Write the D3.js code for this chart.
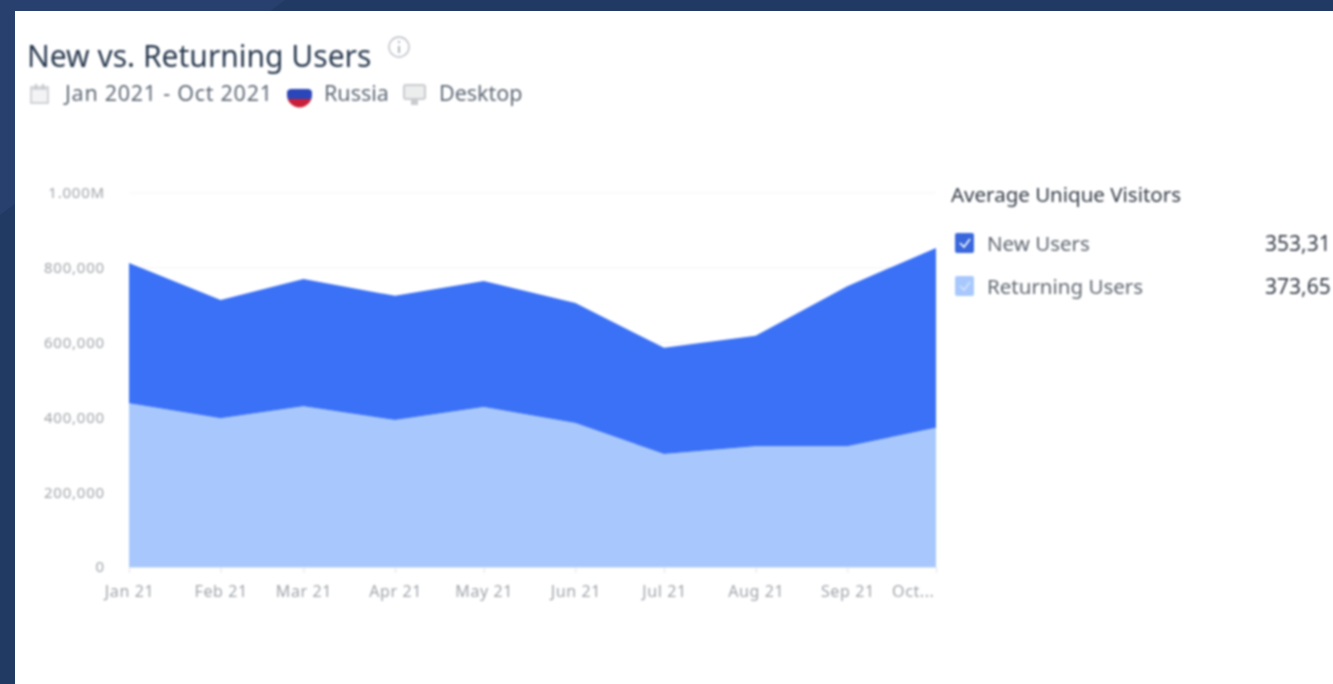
<!DOCTYPE html>
<html><head><meta charset="utf-8">
<script src="https://cdn.jsdelivr.net/npm/d3@7/dist/d3.min.js"></script>
<style>
html,body{margin:0;padding:0;overflow:hidden;background:#213a64}
svg{display:block}
text{font-family:"Noto Sans",sans-serif}
.soft{filter:blur(1px)}
</style></head><body><svg id="c" width="1333" height="684"></svg>
<script>
const months=["2021-01-01","2021-02-01","2021-03-01","2021-04-01","2021-05-01","2021-06-01","2021-07-01","2021-08-01","2021-09-01","2021-10-01"];
const monthLabels=["Jan 21","Feb 21","Mar 21","Apr 21","May 21","Jun 21","Jul 21","Aug 21","Sep 21","Oct..."];
const returningUsers=[438000,398000,430000,393000,428000,385000,302000,323000,323000,372000];
const newUsers=[375000,316000,340000,332000,337000,321000,284000,295000,428000,481000];
const yTicks=[0,200000,400000,600000,800000,1000000];
const yTickLabels=["0","200,000","400,000","600,000","800,000","1.000M"];
const legendNames=["New Users","Returning Users"];
const legendValues=["353,31","373,65"];
const colors=["#3b71f6","#a8c8fd"];

const svg=d3.select("#c");
const defs=svg.append("defs");
svg.append("rect").attr("width",1333).attr("height",684).attr("fill","#213a64");
svg.append("path").attr("d","M0,0H285L0,215Z").attr("fill","#27406e");
svg.append("rect").attr("x",15).attr("y",11).attr("width",1318).attr("height",673).attr("fill","#fff");

const parse=d3.utcParse("%Y-%m-%d");
const dates=months.map(parse);
const x=d3.scaleUtc().domain(d3.extent(dates)).range([129,936]);
const y=d3.scaleLinear().domain([0,1000000]).range([567,193]);

const rows=dates.map((d,i)=>({date:d,returning:returningUsers[i],fresh:newUsers[i]}));
const series=d3.stack().keys(["returning","fresh"])(rows);

const plot=svg.append("g").attr("class","soft");
plot.append("g").selectAll("line").data(yTicks.slice(1)).join("line")
 .attr("x1",129).attr("x2",936).attr("y1",d=>y(d)).attr("y2",d=>y(d))
 .attr("stroke","#f7f7f7").attr("stroke-width",1.5);

const area=d3.area().x(d=>x(d.data.date)).y0(d=>y(d[0])).y1(d=>y(d[1]));
plot.append("g").selectAll("path").data(series).join("path")
 .attr("d",area).attr("fill",(d,i)=>colors[1-i]);

const axY=plot.append("g").attr("transform","translate(105,0)")
 .call(d3.axisLeft(y).tickValues(yTicks).tickSize(0).tickPadding(0).tickFormat((d,i)=>yTickLabels[i]));
axY.select(".domain").remove();
axY.selectAll("text").attr("fill","#a0a4aa").style("font-size","15px").style("letter-spacing","0.8px").style("font-family","'Noto Sans',sans-serif");

const axX=plot.append("g").attr("transform","translate(0,567)")
 .call(d3.axisBottom(x).tickValues(dates).tickSize(6).tickPadding(9).tickFormat((d,i)=>monthLabels[i]));
axX.select(".domain").attr("stroke","#dfe6f2");
axX.selectAll("line").attr("stroke","#dfe3ea");
axX.selectAll("text").attr("fill","#a0a4aa").attr("dy","0.93em").style("font-size","16px").style("letter-spacing","0.6px").style("font-family","'Noto Sans',sans-serif");
axX.selectAll("text").filter((d,i)=>i===9).attr("text-anchor","end").attr("x",-2);

// header
const head=svg.append("g").attr("class","soft");
head.append("text").attr("x",27).attr("y",67).attr("fill","#2a3a50").style("font-size","30px").text("New vs. Returning Users");
head.append("circle").attr("cx",399).attr("cy",47).attr("r",10).attr("fill","none").attr("stroke","#b9bdc4").attr("stroke-width",1.4);
head.append("rect").attr("x",398).attr("y",46).attr("width",2).attr("height",7).attr("fill","#b0b4bb");
head.append("rect").attr("x",398).attr("y",41).attr("width",2).attr("height",2).attr("fill","#b0b4bb");
// calendar icon
head.append("rect").attr("x",31).attr("y",87).attr("width",17).attr("height",16).attr("fill","#f3f3f5").attr("stroke","#c4c6cb").attr("stroke-width",1.5);
head.append("rect").attr("x",31).attr("y",87).attr("width",17).attr("height",3).attr("fill","#d4d6da");
head.append("rect").attr("x",35).attr("y",84).attr("width",2).attr("height",5).attr("fill","#c4c6cb");
head.append("rect").attr("x",42).attr("y",84).attr("width",2).attr("height",5).attr("fill","#c4c6cb");
head.append("text").attr("x",65).attr("y",101).attr("fill","#5f6976").attr("textLength",207).style("font-size","21.5px").text("Jan 2021 - Oct 2021");
// flag
const clip=defs.append("clipPath").attr("id","flag");
clip.append("path").attr("d","M287,92 Q287,88 299.5,88 Q312,88 312,92 V95 A12.5,12.5 0 0 1 287,95 Z");
const flag=head.append("g").attr("clip-path","url(#flag)");
[["#f2f4fa",86,3],["#2b46b8",89,10],["#c9203a",99,10]].forEach(a=>flag.append("rect").attr("x",286).attr("y",a[1]).attr("width",28).attr("height",a[2]).attr("fill",a[0]));
head.append("text").attr("x",324).attr("y",101).attr("fill","#5f6976").style("font-size","21.5px").text("Russia");
// monitor icon
head.append("rect").attr("x",404).attr("y",85).attr("width",21).attr("height",14).attr("rx",2).attr("fill","#eceded").attr("stroke","#c9cbcf").attr("stroke-width",2);
head.append("rect").attr("x",411).attr("y",99).attr("width",7).attr("height",6).attr("fill","#c9cbcf");
head.append("text").attr("x",439).attr("y",101).attr("fill","#5f6976").style("font-size","21.5px").text("Desktop");

// legend
const leg=svg.append("g").attr("class","soft");
leg.append("text").attr("x",951).attr("y",202).attr("fill","#333a46").style("font-size","20.5px").text("Average Unique Visitors");
const rowsG=leg.selectAll("g.r").data(legendNames).join("g").attr("class","r")
 .attr("transform",(d,i)=>`translate(0,${[243,286][i]})`);
rowsG.append("rect").attr("x",955).attr("y",-10).attr("width",19).attr("height",20).attr("rx",2).attr("fill",(d,i)=>i?colors[1]:"#3a68dc");
rowsG.append("path").attr("d","M960,0 L964,4 L970,-4").attr("fill","none").attr("stroke","#fff").attr("stroke-width",1.6).attr("opacity",(d,i)=>i?.5:1);
rowsG.append("text").attr("x",987).attr("y",8).attr("fill","#5f6670").style("font-size","20.5px").text(d=>d);
rowsG.append("text").attr("x",1265).attr("y",8).attr("fill","#363d48").style("font-size","21px").text((d,i)=>legendValues[i]);
</script></body></html>
